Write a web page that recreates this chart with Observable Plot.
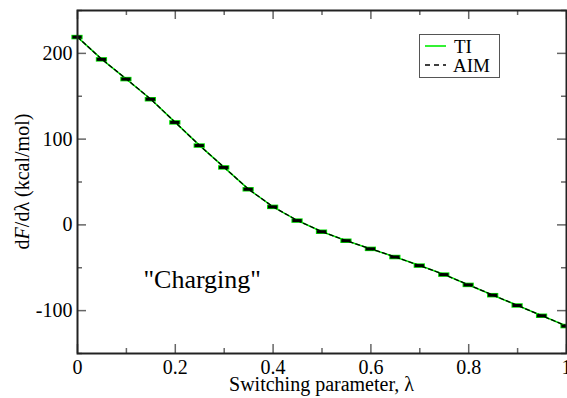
<!DOCTYPE html>
<html>
<head>
<meta charset="utf-8">
<script src="https://cdn.jsdelivr.net/npm/d3@7"></script>
<script src="https://cdn.jsdelivr.net/npm/@observablehq/plot@0.6"></script>
</head>
<body style="margin:0">
<div id="chart" style="font-family:'Times New Roman'"></div>
<script>
// ---- data ----
const lambdas = [0, 0.05, 0.1, 0.15, 0.2, 0.25, 0.3, 0.35, 0.4, 0.45, 0.5,
                 0.55, 0.6, 0.65, 0.7, 0.75, 0.8, 0.85, 0.9, 0.95, 1.0];
const tiValues  = [219, 193, 170, 146.5, 119.5, 92.5, 67, 41.5, 21, 5, -8,
                   -18.5, -28, -37.5, -47.5, -58, -70, -82, -94, -106, -118];
const aimValues = [219, 193, 170, 146.5, 119.5, 92.5, 67, 41.5, 21, 5, -8,
                   -18.5, -28, -37.5, -47.5, -58, -70, -82, -94, -106, -118];
const xMajorTicks = [0, 0.2, 0.4, 0.6, 0.8, 1];
const xMinorTicks = [0.1, 0.3, 0.5, 0.7, 0.9];
const yMajorTicks = [-100, 0, 100, 200];
const yMinorTicks = [-150, -50, 50, 150, 250];
const xTickLabels = ["0", "0.2", "0.4", "0.6", "0.8", "1"];
const yTickLabels = ["-100", "0", "100", "200"];
const seriesNames = ["TI", "AIM"];
const annotation = [{x: 0.255, y: -64, text: "\"Charging\""}];

const ti = lambdas.map((l, i) => ({l, v: tiValues[i]}));
const aim = lambdas.map((l, i) => ({l, v: aimValues[i]}));

const W = 567, H = 398;
const mL = 77, mR = 1, mT = 10, mB = 45;
const innerW = W - mL - mR, innerH = H - mT - mB;
const font = "Times New Roman";
const tickColor = "#666";
const capHalf = 0.0095;

const chart = Plot.plot({
  width: W, height: H,
  marginLeft: mL, marginRight: mR, marginTop: mT, marginBottom: mB,
  style: {fontFamily: font, fontSize: "20px"},
  x: {domain: [0, 1], axis: null},
  y: {domain: [-150, 250], axis: null},
  marks: [
    Plot.axisX(xMajorTicks, {tickSize: 0, tickPadding: 6, fontSize: 20, fontFamily: font,
      tickFormat: (d) => xTickLabels[xMajorTicks.indexOf(d)], label: null}),
    Plot.axisY(yMajorTicks, {tickSize: 0, tickPadding: 5, fontSize: 20, fontFamily: font,
      tickFormat: (d) => yTickLabels[yMajorTicks.indexOf(d)], label: null}),
    Plot.tickX(xMajorTicks, {x: d => d, insetTop: innerH - 9, stroke: tickColor, strokeWidth: 1.5}),
    Plot.tickX(xMinorTicks, {x: d => d, insetTop: innerH - 5, stroke: tickColor, strokeWidth: 1.5}),
    Plot.tickX(xMajorTicks, {x: d => d, insetBottom: innerH - 9, stroke: tickColor, strokeWidth: 1.5}),
    Plot.tickX(xMinorTicks, {x: d => d, insetBottom: innerH - 5, stroke: tickColor, strokeWidth: 1.5}),
    Plot.tickY(yMajorTicks, {y: d => d, insetRight: innerW - 9, stroke: tickColor, strokeWidth: 1.5}),
    Plot.tickY(yMinorTicks, {y: d => d, insetRight: innerW - 5, stroke: tickColor, strokeWidth: 1.5}),
    Plot.tickY(yMajorTicks, {y: d => d, insetLeft: innerW - 9, stroke: tickColor, strokeWidth: 1.5}),
    Plot.tickY(yMinorTicks, {y: d => d, insetLeft: innerW - 5, stroke: tickColor, strokeWidth: 1.5}),
    Plot.line(ti, {x: "l", y: "v", stroke: "#00ee00", strokeWidth: 1.6}),
    Plot.ruleY(ti, {y: "v", x1: d => d.l - capHalf - 0.002, x2: d => d.l + capHalf + 0.002,
      stroke: "#00dd00", strokeWidth: 4.5}),
    Plot.ruleY(ti, {y: "v", x1: d => d.l - capHalf, x2: d => d.l + capHalf,
      stroke: "black", strokeWidth: 3}),
    Plot.line(aim, {x: "l", y: "v", stroke: "black", strokeWidth: 1.3, strokeDasharray: "4,3"}),
    Plot.text(annotation, {x: "x", y: "y", text: "text", fontSize: 26, fontFamily: font, fill: "black", lineAnchor: "middle"}),
    Plot.frame({stroke: "#222", strokeWidth: 2})
  ]
});

document.getElementById("chart").appendChild(chart);

const svg = d3.select(chart);
svg.append("text")
  .attr("x", mL + innerW / 2).attr("y", 391)
  .attr("text-anchor", "middle")
  .attr("font-family", font).attr("font-size", 20).attr("fill", "black")
  .text("Switching parameter, λ");

const yl = svg.append("text")
  .attr("transform", `translate(29,${mT + innerH / 2}) rotate(-90)`)
  .attr("text-anchor", "middle")
  .attr("font-family", font).attr("font-size", 20).attr("fill", "black");
yl.append("tspan").text("d");
yl.append("tspan").attr("font-style", "italic").text("F");
yl.append("tspan").text("/dλ (kcal/mol)");

const lg = svg.append("g");
lg.append("rect").attr("x", 419.5).attr("y", 34.5).attr("width", 80).attr("height", 43)
  .attr("fill", "white").attr("stroke", "#555").attr("stroke-width", 1);
lg.append("line").attr("x1", 425).attr("x2", 446).attr("y1", 46).attr("y2", 46)
  .attr("stroke", "#00ee00").attr("stroke-width", 1.6);
lg.append("line").attr("x1", 425).attr("x2", 446).attr("y1", 65).attr("y2", 65)
  .attr("stroke", "black").attr("stroke-width", 1.3).attr("stroke-dasharray", "5,4");
lg.append("text").attr("x", 454).attr("y", 53).attr("text-anchor", "start")
  .attr("font-family", font).attr("font-size", 19).attr("fill", "black").text(seriesNames[0]);
lg.append("text").attr("x", 453).attr("y", 72).attr("text-anchor", "start")
  .attr("font-family", font).attr("font-size", 19).attr("fill", "black").text(seriesNames[1]);
</script>
</body>
</html>
